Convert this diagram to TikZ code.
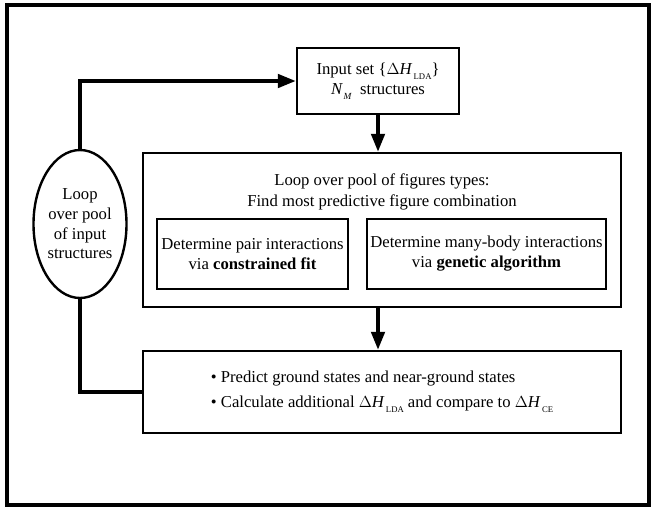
\documentclass[tikz,border=0pt]{standalone}
\usepackage{fontspec}
\setmainfont{Liberation Serif}
\usetikzlibrary{arrows.meta, shapes.geometric, positioning}
\tikzset{
    flow_box/.style={
        draw=black,
        line width=1.8pt,
        inner sep=0pt,
        align=center,
        font=\fontsize{12.5}{15}\selectfont
    },
    loop_line/.style={line width=2.8pt},
    flow_arrow/.style={loop_line, -{Triangle[length=13.5pt, width=10pt]}}
}
\newcommand{\dHsub}[1]{$\Delta$\textit{H}\kern1pt\raisebox{-0.7ex}{\fontsize{6.5}{7}\selectfont #1}}
\newcommand{\NM}{\textit{N}\kern0.5pt\raisebox{-0.7ex}{\fontsize{7}{7}\selectfont\textit{M}}}

\begin{document}
\begin{tikzpicture}[x=0.75pt, y=-0.75pt]
    \useasboundingbox (0,0) rectangle (652,508);
    \draw[line width=2.8pt] (7,5) rectangle (649,505);

    % Input set
    \node[flow_box, minimum width=121.5pt, minimum height=49.5pt] (input) at (378,81)
        {Input set \{\dHsub{LDA}\}\\ \NM\ \ structures};

    % Pool of figure types, with its two fits
    \node[flow_box, minimum width=358.5pt, minimum height=115.5pt] (pool) at (382,230) {};
    \node[font=\fontsize{12.5}{15.5}\selectfont, align=center] (pooltitle) at (382,192)
        {Loop over pool of figures types:\\ Find most predictive figure combination};
    \node[flow_box, minimum width=143.25pt, minimum height=52.5pt] (pair) at (252.5,254)
        {Determine pair interactions\\ via \textbf{constrained fit}};
    \node[flow_box, minimum width=179.25pt, minimum height=52.5pt] (genetic) at (486.5,254)
        {Determine many-body interactions\\ via \textbf{genetic algorithm}};

    % Prediction
    \node[flow_box, minimum width=358.5pt, minimum height=61.5pt, align=left,
          font=\fontsize{12.5}{18.5}\selectfont] (predict) at (382,392)
        {\textbullet\ Predict ground states and near-ground states\\
         \textbullet\ Calculate additional \dHsub{LDA} and compare to \dHsub{CE}};

    % Loop over input structures
    \node[flow_box, ellipse, minimum width=69.75pt, minimum height=111pt,
          font=\fontsize{12.5}{14.8}\selectfont] (loop) at (80,224)
        {Loop\\ over pool\\ of input\\ structures};

    \draw[loop_line] (predict.west) -| (loop.south);
    \draw[flow_arrow] (loop.north) |- (input.west);
    \draw[flow_arrow] (input.south) -- (input.south |- pool.north);
    \draw[flow_arrow] (pool.south -| input.south) -- (predict.north -| input.south);
\end{tikzpicture}
\end{document}
